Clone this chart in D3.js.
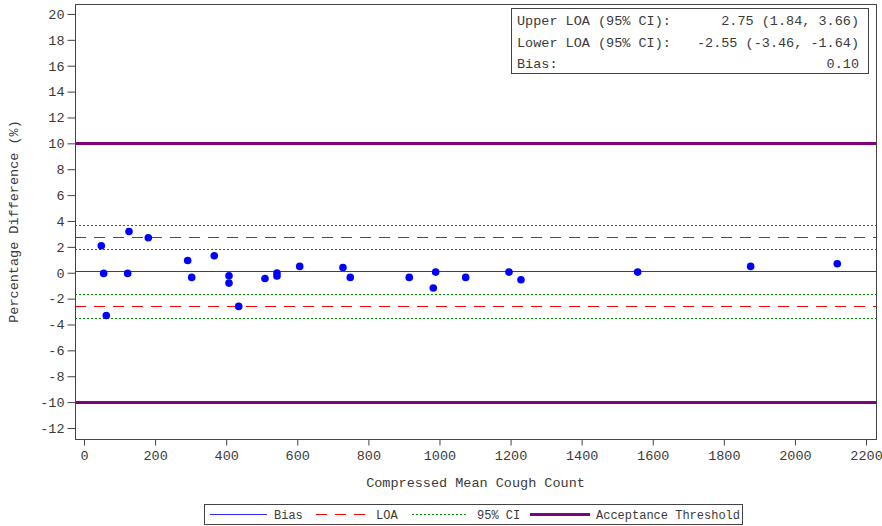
<!DOCTYPE html>
<html>
<head>
<meta charset="utf-8">
<script src="https://cdn.jsdelivr.net/npm/d3@7/dist/d3.min.js"></script>
<style>
  html, body { margin: 0; padding: 0; background: #fff; }
  svg { display: block; }
  text { font-family: "Liberation Mono", "Courier New", monospace; font-size: 13.5px; fill: #3a3a3a; }
</style>
</head>
<body>
<svg id="chart" width="882" height="526"></svg>
<script>
// Bland-Altman data: mean cough count vs percentage difference
const meanCount = [48.7, 55.4, 62.7, 126.6, 122.9, 180.9, 291.7, 303.0, 366.5, 407.9, 407.9,
  435.2, 509.1, 542.9, 542.9, 606.8, 728.5, 749.1, 915.0, 989.3, 982.6, 1073.7, 1195.5,
  1229.3, 1557.5, 1875.4, 2119.0];
const pctDiff = [2.08, -0.05, -3.30, 3.19, -0.05, 2.70, 0.95, -0.36, 1.31, -0.23, -0.80,
  -2.60, -0.44, -0.02, -0.25, 0.49, 0.41, -0.36, -0.36, 0.05, -1.18, -0.36, 0.05,
  -0.54, 0.05, 0.49, 0.69];

// Summary statistics
const bias = 0.10;
const loa = [2.75, -2.55];
const loaCI = [1.84, 3.66, -3.46, -1.64];
const threshold = [10, -10];

const statLabels = ["Upper LOA (95% CI):", "Lower LOA (95% CI):", "Bias:"];
const statValues = ["2.75 (1.84, 3.66)", "-2.55 (-3.46, -1.64)", "0.10"];

const xTicks = d3.range(0, 2201, 200);
const yTicks = d3.range(-12, 21, 2);

const colors = { bias: "#2a2aff", loa: "#ff0000", ci: "#008a00", thr: "#800080" };
const legendItems = [
  { label: "Bias", color: colors.bias, width: 1, dash: null },
  { label: "LOA", color: colors.loa, width: 1, dash: "11,8" },
  { label: "95% CI", color: colors.ci, width: 1, dash: "2,2" },
  { label: "Acceptance Threshold", color: colors.thr, width: 3, dash: null }
];

const svg = d3.select("#chart");
const plot = { left: 75, right: 876, top: 4, bottom: 439 };

const x = d3.scaleLinear().domain([-25.3, 2228]).range([plot.left, plot.right]);
const y = d3.scaleLinear().domain([-12.85, 20.77]).range([plot.bottom, plot.top]);

// Horizontal reference lines, snapped to the pixel grid
function hline(v, color, width, dash) {
  const yy = width % 2 ? Math.round(y(v)) + 0.5 : Math.round(y(v));
  svg.append("line")
    .attr("x1", plot.left).attr("x2", plot.right)
    .attr("y1", yy).attr("y2", yy)
    .attr("stroke", color).attr("stroke-width", width)
    .attr("stroke-dasharray", dash)
    .attr("shape-rendering", "crispEdges");
}
threshold.forEach(v => hline(v, colors.thr, 3, null));
loaCI.forEach(v => hline(v, colors.ci, 1, "2,2"));
loa.forEach(v => hline(v, colors.loa, 1, "11,8"));
hline(bias, colors.bias, 1, null);

// Points
svg.append("g").selectAll("circle")
  .data(meanCount.map((m, i) => [m, pctDiff[i]]))
  .join("circle")
  .attr("cx", d => x(d[0])).attr("cy", d => y(d[1]))
  .attr("r", 3.8).attr("fill", "#0000ff");

// Frame
svg.append("rect")
  .attr("x", plot.left + 0.5).attr("y", plot.top + 0.5)
  .attr("width", plot.right - plot.left).attr("height", plot.bottom - plot.top)
  .attr("fill", "none").attr("stroke", "#444").attr("stroke-width", 1)
  .attr("shape-rendering", "crispEdges");

// Axes
const yAxis = svg.append("g").attr("transform", `translate(${plot.left + 0.5},0)`)
  .call(d3.axisLeft(y).tickValues(yTicks).tickSize(8).tickPadding(3).tickFormat(d => String(d)));
const xAxis = svg.append("g").attr("transform", `translate(0,${plot.bottom + 0.5})`)
  .call(d3.axisBottom(x).tickValues(xTicks).tickSize(6).tickPadding(5).tickFormat(d => String(d)));
[xAxis, yAxis].forEach(g => {
  g.select(".domain").remove();
  g.selectAll(".tick line").attr("stroke", "#444");
  g.selectAll(".tick text").attr("fill", "#3a3a3a")
    .style("font-family", '"Liberation Mono", monospace').style("font-size", "13.5px");
});

// Axis titles
svg.append("text")
  .attr("x", (plot.left + plot.right) / 2).attr("y", 487)
  .attr("text-anchor", "middle").text("Compressed Mean Cough Count");
svg.append("text")
  .attr("transform", `translate(18,${(plot.top + plot.bottom) / 2}) rotate(-90)`)
  .attr("text-anchor", "middle").text("Percentage Difference (%)");

// Statistics box
const box = { x: 511, y: 8, w: 357, h: 65 };
svg.append("rect")
  .attr("x", box.x + 0.5).attr("y", box.y + 0.5).attr("width", box.w).attr("height", box.h)
  .attr("fill", "#fff").attr("stroke", "#444").attr("stroke-width", 1)
  .attr("shape-rendering", "crispEdges");
statLabels.forEach((s, i) => {
  svg.append("text").attr("x", box.x + 6).attr("y", box.y + 17 + i * 21.5).text(s);
  svg.append("text").attr("x", box.x + box.w - 9).attr("y", box.y + 17 + i * 21.5)
    .attr("text-anchor", "end").text(statValues[i]);
});

// Legend
svg.append("rect")
  .attr("x", 204.5).attr("y", 504.5).attr("width", 538).attr("height", 20)
  .attr("fill", "#fff").attr("stroke", "#444").attr("stroke-width", 1)
  .attr("shape-rendering", "crispEdges");
const legendPos = [
  { x1: 210, x2: 267, tx: 274 },
  { x1: 316, x2: 366, tx: 376 },
  { x1: 412, x2: 467, tx: 477 },
  { x1: 530, x2: 590, tx: 596 }
];
legendItems.forEach((it, i) => {
  const p = legendPos[i];
  svg.append("line")
    .attr("x1", p.x1).attr("x2", p.x2)
    .attr("y1", it.width % 2 ? 514.5 : 514).attr("y2", it.width % 2 ? 514.5 : 514)
    .attr("stroke", it.color).attr("stroke-width", it.width)
    .attr("stroke-dasharray", it.dash)
    .attr("shape-rendering", "crispEdges");
  svg.append("text").attr("x", p.tx).attr("y", 518.5)
    .style("font-size", "12px").text(it.label);
});
</script>
</body>
</html>
